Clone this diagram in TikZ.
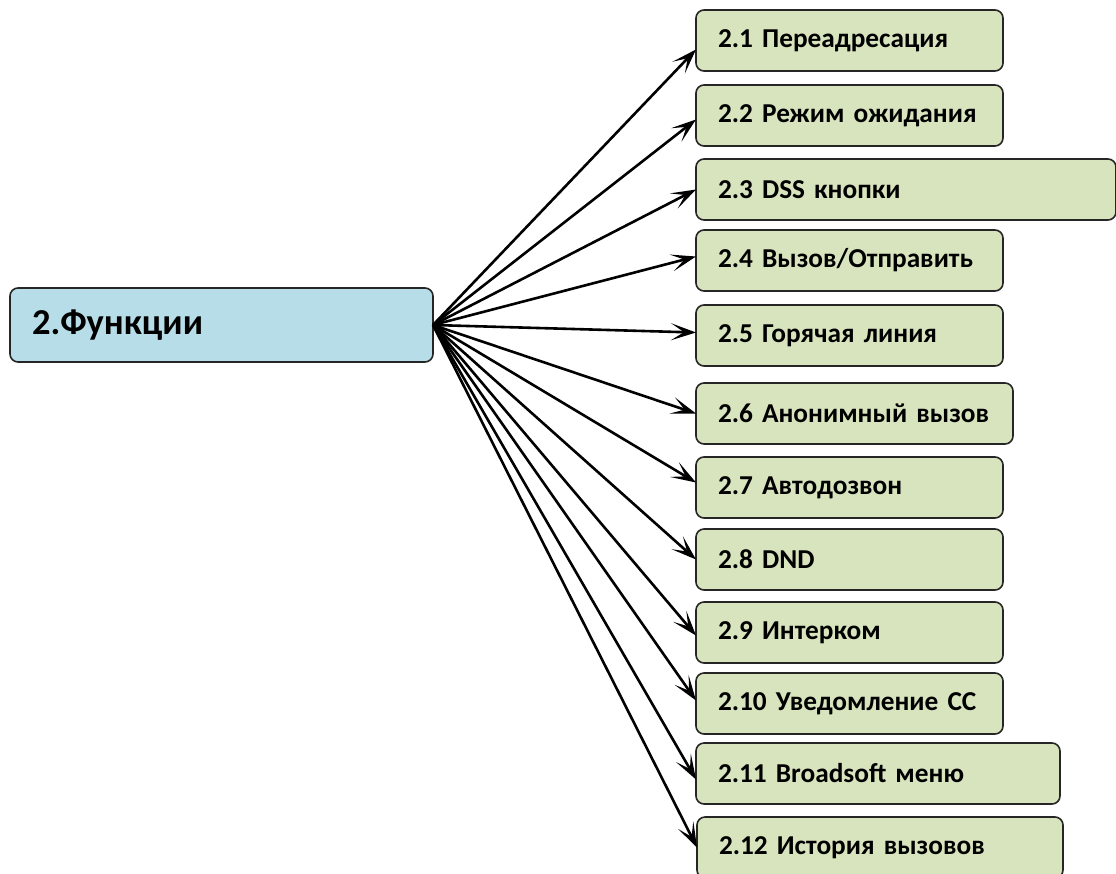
\documentclass[tikz,border=0pt]{standalone}
\usepackage{fontspec}
\setmainfont{Carlito}
\usepackage{xcolor}
\usepackage{tikz}
\usetikzlibrary{arrows.meta,positioning}
\definecolor{headfill}{HTML}{B7DEE8}
\definecolor{itemfill}{HTML}{D7E4BD}
\tikzset{
  funcbox/.style={
    rectangle, rounded corners=8pt, draw=black!85, line width=1.6pt, outer sep=0pt,
    minimum height=61pt, inner xsep=22pt, text width=263pt, align=left,
    font=\fontsize{27.3}{32}\selectfont\bfseries, fill=#1
  },
  funcbox/.default=itemfill,
  funcarrow/.style={-{Stealth[length=25pt,width=17pt,inset=13pt]}, line width=2.6pt}
}
\begin{document}
\begin{tikzpicture}[x=1pt,y=-1pt]
\useasboundingbox (0,0) rectangle (1116,873);

\node[funcbox=headfill, text width=379pt, minimum height=74pt, anchor=north west,
  font=\fontsize{36.5}{42}\selectfont\bfseries] (func) at (10,288) {2.Функции};

\node[funcbox, anchor=north west] (f1) at (696,10) {2.1 Переадресация};
\node[funcbox, below=14pt of f1.south west, anchor=north west] (f2) {2.2 Режим ожидания};
\node[funcbox, text width=376pt, below=13pt of f2.south west, anchor=north west] (f3) {2.3 DSS кнопки};
\node[funcbox, below=10pt of f3.south west, anchor=north west] (f4) {2.4 Вызов/Отправить};
\node[funcbox, below=14pt of f4.south west, anchor=north west] (f5) {2.5 Горячая линия};
\node[funcbox, text width=273pt, below=17pt of f5.south west, anchor=north west] (f6) {2.6 Анонимный вызов};
\node[funcbox, below=13pt of f6.south west, anchor=north west] (f7) {2.7 Автодозвон};
\node[funcbox, below=11pt of f7.south west, anchor=north west] (f8) {2.8 DND};
\node[funcbox, below=12pt of f8.south west, anchor=north west] (f9) {2.9 Интерком};
\node[funcbox, below=10pt of f9.south west, anchor=north west] (f10) {2.10 Уведомление CC};
\node[funcbox, text width=320pt, below=9pt of f10.south west, anchor=north west] (f11) {2.11 Broadsoft меню};
\node[funcbox, text width=322pt, below=13pt of f11.south west, anchor=north west, xshift=1pt] (f12) {2.12 История вызовов};

\draw[funcarrow] (func.east) -- ([yshift=-9pt]f1.west);
\draw[funcarrow] (func.east) -- ([yshift=-4pt]f2.west);
\draw[funcarrow] (func.east) -- (f3.west);
\draw[funcarrow] (func.east) -- ([yshift=4pt]f4.west);
\draw[funcarrow] (func.east) -- ([yshift=3pt]f5.west);
\draw[funcarrow] (func.east) -- (f6.west);
\draw[funcarrow] (func.east) -- ([yshift=5pt]f7.west);
\draw[funcarrow] (func.east) -- (f8.west);
\draw[funcarrow] (func.east) -- ([yshift=-3pt]f9.west);
\draw[funcarrow] (func.east) -- ([yshift=3pt]f10.west);
\draw[funcarrow] (func.east) -- ([yshift=-6pt]f11.west);
\draw[funcarrow] (func.east) -- (f12.west);
\end{tikzpicture}
\end{document}
